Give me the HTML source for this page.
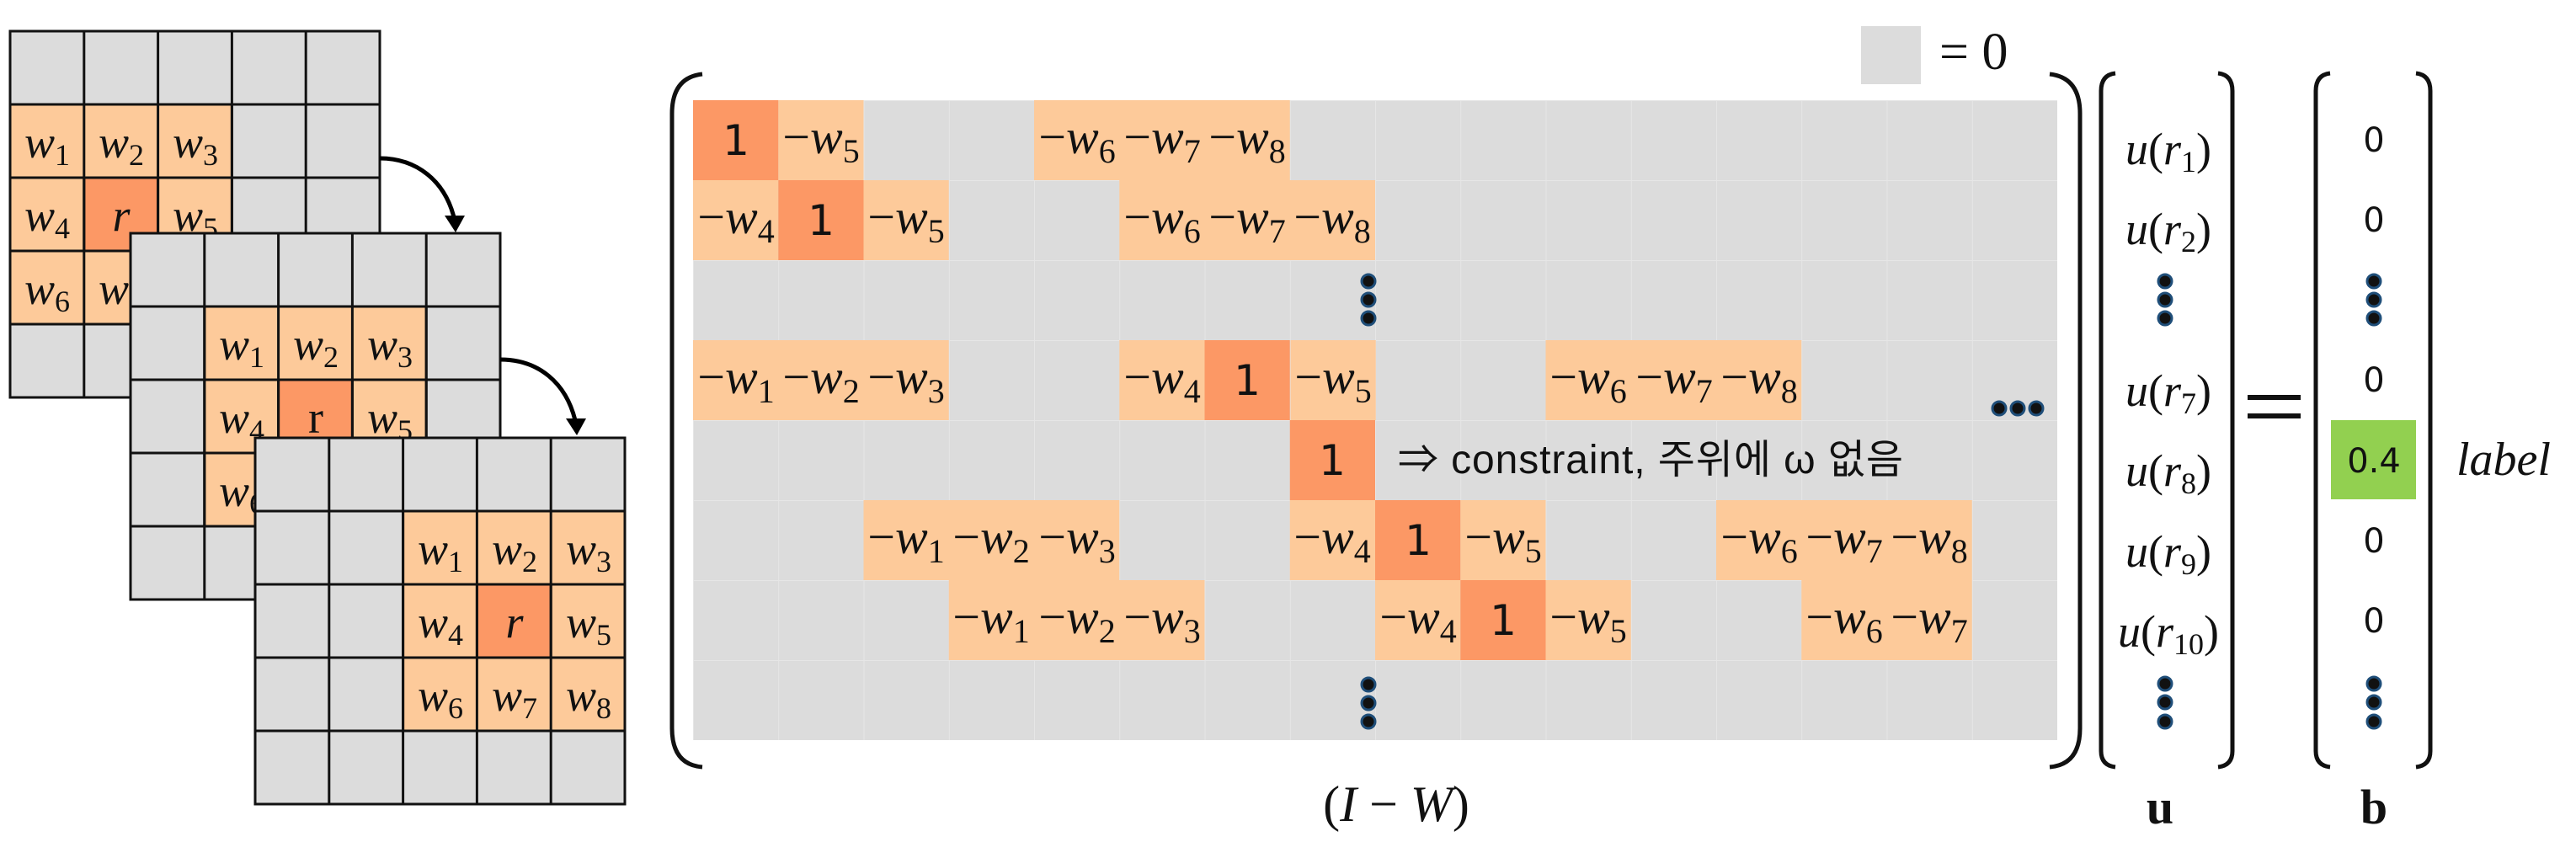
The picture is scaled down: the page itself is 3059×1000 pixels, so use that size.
<!DOCTYPE html>
<html><head><meta charset="utf-8"><style>
html,body{margin:0;padding:0;background:#fff;}
svg{display:block;}
.m{font-family:"Liberation Serif",serif;font-style:italic;}
.s{font-family:"DejaVu Sans","Liberation Sans",sans-serif;}
</style></head><body>
<svg width="3059" height="1000" viewBox="0 0 3059 1000" xmlns="http://www.w3.org/2000/svg">
<defs>
<pattern id="g" x="823" y="119" width="101.25" height="95" patternUnits="userSpaceOnUse">
<rect width="101.25" height="95" fill="#dcdcdc"/>
<path d="M0,0 H101.25 M0,0 V95" stroke="#e6e6e6" stroke-width="2" fill="none"/>
</pattern>
</defs>

<!-- grid1 -->
<g stroke="#111" stroke-width="3">
<g transform="translate(12,37)">
<rect width="439" height="435" fill="#dcdcdc"/>
<rect x="0" y="87" width="263.4" height="261" fill="#fdca9a"/>
<rect x="87.8" y="174" width="87.8" height="87" fill="#fc9865"/>
<path d="M87.8,0V435M175.6,0V435M263.4,0V435M351.2,0V435M0,87H439M0,174H439M0,261H439M0,348H439" fill="none"/>
<rect width="439" height="435" fill="none"/>
</g>
</g>
<g class="m" font-size="54" fill="#111">
<text x="56" y="187" text-anchor="middle">w<tspan font-size="36" dy="9" font-style="normal">1</tspan></text>
<text x="144" y="187" text-anchor="middle">w<tspan font-size="36" dy="9" font-style="normal">2</tspan></text>
<text x="232" y="187" text-anchor="middle">w<tspan font-size="36" dy="9" font-style="normal">3</tspan></text>
<text x="56" y="274" text-anchor="middle">w<tspan font-size="36" dy="9" font-style="normal">4</tspan></text>
<text x="144" y="274" text-anchor="middle">r</text>
<text x="232" y="274" text-anchor="middle">w<tspan font-size="36" dy="9" font-style="normal">5</tspan></text>
<text x="56" y="361" text-anchor="middle">w<tspan font-size="36" dy="9" font-style="normal">6</tspan></text>
<text x="144" y="361" text-anchor="middle">w<tspan font-size="36" dy="9" font-style="normal">7</tspan></text>
</g>
<!-- grid2 -->
<g stroke="#111" stroke-width="3">
<g transform="translate(155,277)">
<rect width="439" height="435" fill="#dcdcdc"/>
<rect x="87.8" y="87" width="263.4" height="261" fill="#fdca9a"/>
<rect x="175.6" y="174" width="87.8" height="87" fill="#fc9865"/>
<path d="M87.8,0V435M175.6,0V435M263.4,0V435M351.2,0V435M0,87H439M0,174H439M0,261H439M0,348H439" fill="none"/>
<rect width="439" height="435" fill="none"/>
</g>
</g>
<g class="m" font-size="54" fill="#111">
<text x="287" y="427" text-anchor="middle">w<tspan font-size="36" dy="9" font-style="normal">1</tspan></text>
<text x="375" y="427" text-anchor="middle">w<tspan font-size="36" dy="9" font-style="normal">2</tspan></text>
<text x="463" y="427" text-anchor="middle">w<tspan font-size="36" dy="9" font-style="normal">3</tspan></text>
<text x="287" y="514" text-anchor="middle">w<tspan font-size="36" dy="9" font-style="normal">4</tspan></text>
<text x="375" y="514" text-anchor="middle" font-style="normal">r</text>
<text x="463" y="514" text-anchor="middle">w<tspan font-size="36" dy="9" font-style="normal">5</tspan></text>
<text x="287" y="601" text-anchor="middle">w<tspan font-size="36" dy="9" font-style="normal">6</tspan></text>
</g>
<!-- grid3 -->
<g stroke="#111" stroke-width="3">
<g transform="translate(303,520)">
<rect width="439" height="435" fill="#dcdcdc"/>
<rect x="175.6" y="87" width="263.4" height="261" fill="#fdca9a"/>
<rect x="263.4" y="174" width="87.8" height="87" fill="#fc9865"/>
<path d="M87.8,0V435M175.6,0V435M263.4,0V435M351.2,0V435M0,87H439M0,174H439M0,261H439M0,348H439" fill="none"/>
<rect width="439" height="435" fill="none"/>
</g>
</g>
<g class="m" font-size="54" fill="#111">
<text x="523" y="670" text-anchor="middle">w<tspan font-size="36" dy="9" font-style="normal">1</tspan></text>
<text x="611" y="670" text-anchor="middle">w<tspan font-size="36" dy="9" font-style="normal">2</tspan></text>
<text x="699" y="670" text-anchor="middle">w<tspan font-size="36" dy="9" font-style="normal">3</tspan></text>
<text x="523" y="757" text-anchor="middle">w<tspan font-size="36" dy="9" font-style="normal">4</tspan></text>
<text x="611" y="757" text-anchor="middle">r</text>
<text x="699" y="757" text-anchor="middle">w<tspan font-size="36" dy="9" font-style="normal">5</tspan></text>
<text x="523" y="844" text-anchor="middle">w<tspan font-size="36" dy="9" font-style="normal">6</tspan></text>
<text x="611" y="844" text-anchor="middle">w<tspan font-size="36" dy="9" font-style="normal">7</tspan></text>
<text x="699" y="844" text-anchor="middle">w<tspan font-size="36" dy="9" font-style="normal">8</tspan></text>
</g>
<!-- arrows -->
<g stroke="#000" stroke-width="5" fill="none">
<path d="M451,188 C495,188 528,215 539,258"/>
<path d="M594,427 C640,427 672,455 683,499"/>
</g>
<polygon points="528,256 552,256 541,276" fill="#000"/>
<polygon points="672,497 696,497 685,517" fill="#000"/>

<!-- matrix -->
<rect x="823" y="119" width="1620" height="760" fill="url(#g)"/>
<g fill="#fdca9a">
<rect x="924.25" y="119" width="101.25" height="95"/>
<rect x="1228" y="119" width="303.75" height="95"/>
<rect x="823" y="214" width="101.25" height="95"/>
<rect x="1025.5" y="214" width="101.25" height="95"/>
<rect x="1329.25" y="214" width="303.75" height="95"/>
<rect x="823" y="404" width="303.75" height="95"/>
<rect x="1329.25" y="404" width="101.25" height="95"/>
<rect x="1532.5" y="404" width="101.25" height="95"/>
<rect x="1835.5" y="404" width="303.75" height="95"/>
<rect x="1025.5" y="594" width="303.75" height="95"/>
<rect x="1531.75" y="594" width="101.25" height="95"/>
<rect x="1734.25" y="594" width="101.25" height="95"/>
<rect x="2038" y="594" width="303.75" height="95"/>
<rect x="1126.75" y="689" width="303.75" height="95"/>
<rect x="1633" y="689" width="101.25" height="95"/>
<rect x="1835.5" y="689" width="101.25" height="95"/>
<rect x="2139.25" y="689" width="202.5" height="95"/>
</g>
<g fill="#fc9865">
<rect x="823" y="119" width="101.25" height="95"/>
<rect x="924.25" y="214" width="101.25" height="95"/>
<rect x="1430.5" y="404" width="101.25" height="95"/>
<rect x="1531.75" y="499" width="101.25" height="95"/>
<rect x="1633" y="594" width="101.25" height="95"/>
<rect x="1734.25" y="689" width="101.25" height="95"/>
</g>
<g class="s" font-size="50" fill="#111" text-anchor="middle">
<text x="874" y="184">1</text>
<text x="975" y="279">1</text>
<text x="1481" y="469">1</text>
<text x="1582" y="564">1</text>
<text x="1684" y="659">1</text>
<text x="1785" y="754">1</text>
</g>
<g class="m" font-size="58" fill="#111" text-anchor="middle">
<text x="975" y="182"><tspan font-style="normal">−</tspan>w<tspan font-size="40" dy="11" font-style="normal">5</tspan></text>
<text x="1279" y="182"><tspan font-style="normal">−</tspan>w<tspan font-size="40" dy="11" font-style="normal">6</tspan></text>
<text x="1380" y="182"><tspan font-style="normal">−</tspan>w<tspan font-size="40" dy="11" font-style="normal">7</tspan></text>
<text x="1481" y="182"><tspan font-style="normal">−</tspan>w<tspan font-size="40" dy="11" font-style="normal">8</tspan></text>

<text x="874" y="277"><tspan font-style="normal">−</tspan>w<tspan font-size="40" dy="11" font-style="normal">4</tspan></text>
<text x="1076" y="277"><tspan font-style="normal">−</tspan>w<tspan font-size="40" dy="11" font-style="normal">5</tspan></text>
<text x="1380" y="277"><tspan font-style="normal">−</tspan>w<tspan font-size="40" dy="11" font-style="normal">6</tspan></text>
<text x="1481" y="277"><tspan font-style="normal">−</tspan>w<tspan font-size="40" dy="11" font-style="normal">7</tspan></text>
<text x="1582" y="277"><tspan font-style="normal">−</tspan>w<tspan font-size="40" dy="11" font-style="normal">8</tspan></text>

<text x="874" y="467"><tspan font-style="normal">−</tspan>w<tspan font-size="40" dy="11" font-style="normal">1</tspan></text>
<text x="975" y="467"><tspan font-style="normal">−</tspan>w<tspan font-size="40" dy="11" font-style="normal">2</tspan></text>
<text x="1076" y="467"><tspan font-style="normal">−</tspan>w<tspan font-size="40" dy="11" font-style="normal">3</tspan></text>
<text x="1380" y="467"><tspan font-style="normal">−</tspan>w<tspan font-size="40" dy="11" font-style="normal">4</tspan></text>
<text x="1583" y="467"><tspan font-style="normal">−</tspan>w<tspan font-size="40" dy="11" font-style="normal">5</tspan></text>
<text x="1886" y="467"><tspan font-style="normal">−</tspan>w<tspan font-size="40" dy="11" font-style="normal">6</tspan></text>
<text x="1988" y="467"><tspan font-style="normal">−</tspan>w<tspan font-size="40" dy="11" font-style="normal">7</tspan></text>
<text x="2089" y="467"><tspan font-style="normal">−</tspan>w<tspan font-size="40" dy="11" font-style="normal">8</tspan></text>

<text x="1076" y="657"><tspan font-style="normal">−</tspan>w<tspan font-size="40" dy="11" font-style="normal">1</tspan></text>
<text x="1177" y="657"><tspan font-style="normal">−</tspan>w<tspan font-size="40" dy="11" font-style="normal">2</tspan></text>
<text x="1279" y="657"><tspan font-style="normal">−</tspan>w<tspan font-size="40" dy="11" font-style="normal">3</tspan></text>
<text x="1582" y="657"><tspan font-style="normal">−</tspan>w<tspan font-size="40" dy="11" font-style="normal">4</tspan></text>
<text x="1785" y="657"><tspan font-style="normal">−</tspan>w<tspan font-size="40" dy="11" font-style="normal">5</tspan></text>
<text x="2089" y="657"><tspan font-style="normal">−</tspan>w<tspan font-size="40" dy="11" font-style="normal">6</tspan></text>
<text x="2190" y="657"><tspan font-style="normal">−</tspan>w<tspan font-size="40" dy="11" font-style="normal">7</tspan></text>
<text x="2291" y="657"><tspan font-style="normal">−</tspan>w<tspan font-size="40" dy="11" font-style="normal">8</tspan></text>

<text x="1177" y="752"><tspan font-style="normal">−</tspan>w<tspan font-size="40" dy="11" font-style="normal">1</tspan></text>
<text x="1279" y="752"><tspan font-style="normal">−</tspan>w<tspan font-size="40" dy="11" font-style="normal">2</tspan></text>
<text x="1380" y="752"><tspan font-style="normal">−</tspan>w<tspan font-size="40" dy="11" font-style="normal">3</tspan></text>
<text x="1684" y="752"><tspan font-style="normal">−</tspan>w<tspan font-size="40" dy="11" font-style="normal">4</tspan></text>
<text x="1886" y="752"><tspan font-style="normal">−</tspan>w<tspan font-size="40" dy="11" font-style="normal">5</tspan></text>
<text x="2190" y="752"><tspan font-style="normal">−</tspan>w<tspan font-size="40" dy="11" font-style="normal">6</tspan></text>
<text x="2291" y="752"><tspan font-style="normal">−</tspan>w<tspan font-size="40" dy="11" font-style="normal">7</tspan></text>
</g>
<text x="1660" y="562" font-family="'Liberation Sans','Noto Sans CJK KR',sans-serif" font-size="48" fill="#111" textLength="600">⇒ constraint, 주위에 ω 없음</text>

<!-- dots -->
<g fill="#111" stroke="#1f4e79" stroke-width="3">
<circle cx="1625" cy="334" r="8"/><circle cx="1625" cy="356" r="8"/><circle cx="1625" cy="378" r="8"/>
<circle cx="1625" cy="813" r="8"/><circle cx="1625" cy="835" r="8"/><circle cx="1625" cy="857" r="8"/>
<circle cx="2374" cy="485" r="8"/><circle cx="2396" cy="485" r="8"/><circle cx="2418" cy="485" r="8"/>
<circle cx="2571" cy="334" r="8"/><circle cx="2571" cy="356" r="8"/><circle cx="2571" cy="378" r="8"/>
<circle cx="2571" cy="812" r="8"/><circle cx="2571" cy="834" r="8"/><circle cx="2571" cy="857" r="8"/>
<circle cx="2819" cy="334" r="8"/><circle cx="2819" cy="356" r="8"/><circle cx="2819" cy="378" r="8"/>
<circle cx="2819" cy="812" r="8"/><circle cx="2819" cy="834" r="8"/><circle cx="2819" cy="857" r="8"/>
</g>

<!-- legend -->
<rect x="2210" y="31" width="71" height="69" fill="#dcdcdc"/>
<text x="2303" y="82" font-family="'Liberation Serif',serif" font-size="62" fill="#111">= 0</text>

<!-- brackets -->
<g stroke="#111" stroke-width="5" fill="none">
<path d="M834,88 Q798,92 798,135 L798,865 Q798,908 834,911"/>
<path d="M2434,88 Q2470,92 2470,135 L2470,865 Q2470,908 2434,911"/>
<path d="M2512,87 Q2495,89 2495,108 L2495,892 Q2495,909 2512,911"/>
<path d="M2634,87 Q2651,89 2651,108 L2651,892 Q2651,909 2634,911"/>
<path d="M2767,87 Q2750,89 2750,108 L2750,892 Q2750,909 2767,911"/>
<path d="M2869,87 Q2886,89 2886,108 L2886,892 Q2886,909 2869,911"/>
</g>

<!-- u vector -->
<g class="m" font-size="54" fill="#111" text-anchor="middle">
<text x="2575" y="195">u<tspan font-style="normal">(</tspan>r<tspan font-size="36" dy="9" font-style="normal">1</tspan><tspan dy="-9" font-style="normal">)</tspan></text>
<text x="2575" y="290">u<tspan font-style="normal">(</tspan>r<tspan font-size="36" dy="9" font-style="normal">2</tspan><tspan dy="-9" font-style="normal">)</tspan></text>
<text x="2575" y="482">u<tspan font-style="normal">(</tspan>r<tspan font-size="36" dy="9" font-style="normal">7</tspan><tspan dy="-9" font-style="normal">)</tspan></text>
<text x="2575" y="577">u<tspan font-style="normal">(</tspan>r<tspan font-size="36" dy="9" font-style="normal">8</tspan><tspan dy="-9" font-style="normal">)</tspan></text>
<text x="2575" y="673">u<tspan font-style="normal">(</tspan>r<tspan font-size="36" dy="9" font-style="normal">9</tspan><tspan dy="-9" font-style="normal">)</tspan></text>
<text x="2575" y="768">u<tspan font-style="normal">(</tspan>r<tspan font-size="36" dy="9" font-style="normal">10</tspan><tspan dy="-9" font-style="normal">)</tspan></text>
</g>

<rect x="2669" y="469" width="63" height="6" fill="#111"/>
<rect x="2669" y="491" width="63" height="6" fill="#111"/>

<rect x="2768" y="499" width="101" height="94" fill="#92d050"/>
<g class="s" font-size="40" fill="#111" text-anchor="middle">
<text x="2819" y="180">0</text>
<text x="2819" y="275">0</text>
<text x="2819" y="465">0</text>
<text x="2819" y="561">0.4</text>
<text x="2819" y="656">0</text>
<text x="2819" y="751">0</text>
</g>
<text x="2917" y="564" class="m" font-size="56" fill="#111">label</text>

<text x="1658" y="975" class="m" font-size="60" fill="#111" text-anchor="middle"><tspan font-style="normal">(</tspan>I <tspan font-style="normal">−</tspan> W<tspan font-style="normal">)</tspan></text>
<text x="2565" y="978" font-family="'Liberation Serif',serif" font-weight="bold" font-size="58" fill="#111" text-anchor="middle">u</text>
<text x="2819" y="978" font-family="'Liberation Serif',serif" font-weight="bold" font-size="58" fill="#111" text-anchor="middle">b</text>
</svg>
</body></html>
